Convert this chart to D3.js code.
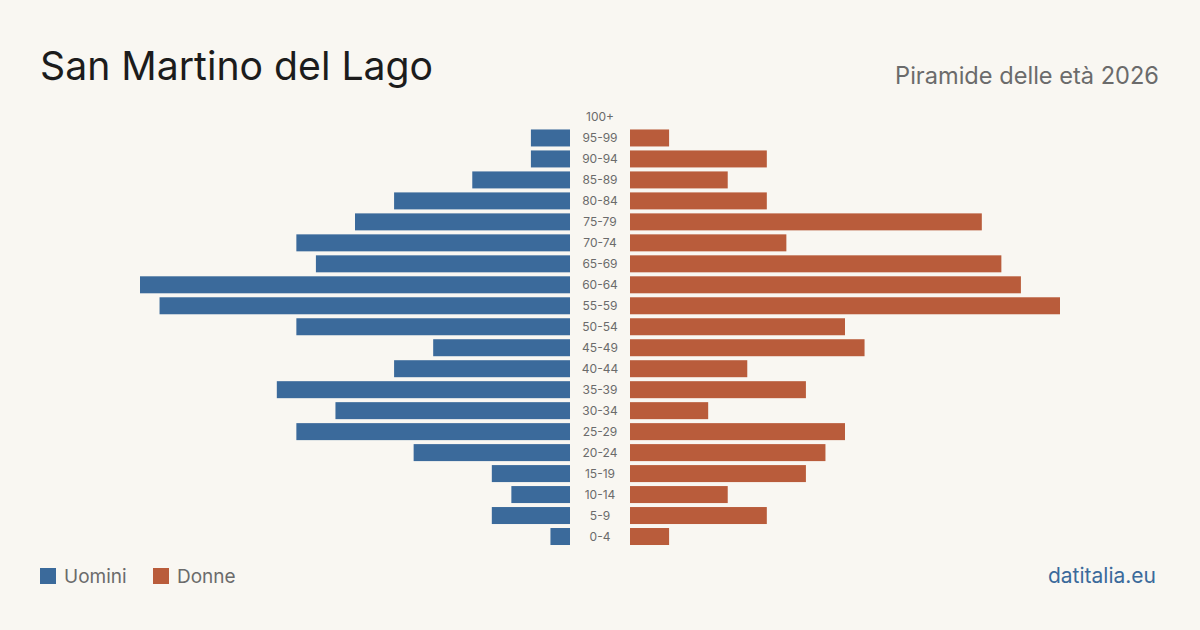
<!DOCTYPE html>
<html><head><meta charset="utf-8">
<script src="https://cdn.jsdelivr.net/npm/d3@7"></script>
<style>
html,body{margin:0;padding:0;background:#f9f7f2;}
svg{display:block;font-family:Inter,"Open Sans",sans-serif;}
</style></head><body>
<svg id="c" width="1200" height="630"></svg>
<script>
const ageGroups = ["100+","95-99","90-94","85-89","80-84","75-79","70-74","65-69","60-64","55-59","50-54","45-49","40-44","35-39","30-34","25-29","20-24","15-19","10-14","5-9","0-4"];
const men   = [0,2,2,5,9,11,14,13,22,21,14,7,9,15,12,14,8,4,3,4,1];
const women = [0,2,7,5,7,18,8,19,20,22,11,12,6,9,4,11,10,9,5,7,2];
const legendLabels = ["Uomini","Donne"];
const colors = {men:"#3b6a9b", women:"#b95c3b"};

const svg = d3.select("#c");
svg.append("rect").attr("width",1200).attr("height",630).attr("fill","#f9f7f2");

const y = d3.scaleBand().domain(ageGroups).range([106.5,547]).paddingInner(0.19).paddingOuter(0.095);
const maxV = 22;
const xL = d3.scaleLinear().domain([0,maxV]).range([570,140]);
const xR = d3.scaleLinear().domain([0,maxV]).range([630,1060]);

svg.append("g").selectAll("rect").data(ageGroups).join("rect")
  .attr("x",(d,i)=>xL(men[i])).attr("y",d=>y(d))
  .attr("width",(d,i)=>xL(0)-xL(men[i])).attr("height",y.bandwidth())
  .attr("fill",colors.men);
svg.append("g").selectAll("rect").data(ageGroups).join("rect")
  .attr("x",xR(0)).attr("y",d=>y(d))
  .attr("width",(d,i)=>xR(women[i])-xR(0)).attr("height",y.bandwidth())
  .attr("fill",colors.women);
svg.append("g").selectAll("text").data(ageGroups).join("text")
  .attr("x",600).attr("y",d=>y(d)+y.bandwidth()/2).attr("dy","0.35em")
  .attr("text-anchor","middle").attr("font-size",12).attr("fill","#6b6b6b").text(d=>d);

svg.append("text").attr("x",40).attr("y",80).attr("font-size",39.2).attr("fill","#1c1c1c").text("San Martino del Lago");
svg.append("text").attr("x",1159).attr("y",84).attr("text-anchor","end").attr("font-size",23.6).attr("fill","#6b6b6b").text("Piramide delle età 2026");

const lg = svg.append("g");
[[40,colors.men],[153,colors.women]].forEach(([x,c],i)=>{
  lg.append("rect").attr("x",x).attr("y",568).attr("width",16).attr("height",16).attr("fill",c);
  lg.append("text").attr("x",x+24).attr("y",583).attr("font-size",19).attr("fill","#6b6b6b").text(legendLabels[i]);
});
svg.append("text").attr("x",1156).attr("y",583).attr("text-anchor","end").attr("font-size",21).attr("fill","#3b6a9b").text("datitalia.eu");
</script></body></html>
